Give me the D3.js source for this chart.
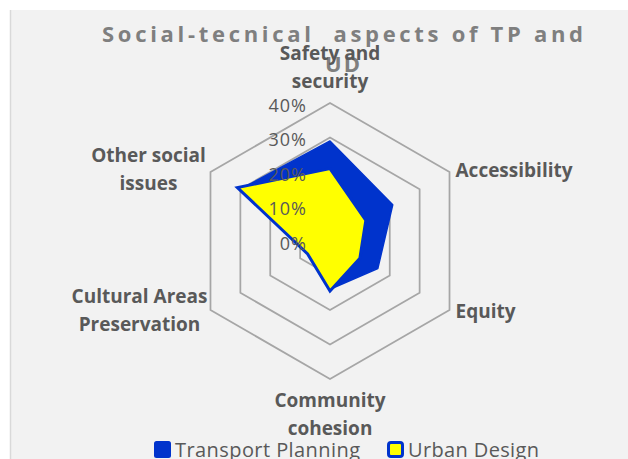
<!DOCTYPE html>
<html>
<head>
<meta charset="utf-8">
<script src="https://cdn.jsdelivr.net/npm/d3@7"></script>
<style>
  html, body { margin: 0; padding: 0; background: #fff; }
  svg { display: block; }
  text { font-family: "Open Sans", "Liberation Sans", sans-serif; }
</style>
</head>
<body>
<div id="chart"></div>
<script>
// chart data
const categories = [
  ["Safety and", "security"],
  ["Accessibility"],
  ["Equity"],
  ["Community", "cohesion"],
  ["Cultural Areas", "Preservation"],
  ["Other social", "issues"]
];
const transportPlanning = [0.29, 0.21, 0.16, 0.14, 0.07, 0.30];
const urbanDesign = [0.21, 0.12, 0.10, 0.145, 0.075, 0.31];
const tickValues = [0, 0.1, 0.2, 0.3, 0.4];
const seriesNames = ["Transport Planning", "Urban Design"];

const width = 628, height = 459;
const cx = 330, cy = 241;
const blue = "#0033cc", yellow = "#ffff00";

// where each category label sits, relative to its outer vertex
const labelLayout = [
  { dx: 0, dy: -43, anchor: "middle" },
  { dx: 6, dy: 5, anchor: "start" },
  { dx: 6, dy: 8, anchor: "start" },
  { dx: 0, dy: 28, anchor: "middle" },
  { dx: -71, dy: -7, anchor: "middle" },
  { dx: -62, dy: -10, anchor: "middle" }
];

const svg = d3.select("#chart").append("svg")
  .attr("width", width)
  .attr("height", height);

// chart area
svg.append("rect")
  .attr("x", 10).attr("y", 10)
  .attr("width", width - 10).attr("height", height - 10)
  .attr("fill", "#f2f2f2");
svg.append("line")
  .attr("x1", 10.5).attr("x2", 10.5)
  .attr("y1", 10).attr("y2", height)
  .attr("stroke", "#d9d9d9").attr("stroke-width", 1.5);

// title
const title = svg.append("text")
  .attr("fill", "#7f7f7f")
  .attr("font-weight", "bold")
  .attr("font-size", 22)
  .style("white-space", "pre");
title.append("tspan")
  .attr("x", 102).attr("y", 42)
  .attr("textLength", 481)
  .attr("lengthAdjust", "spacing")
  .text("Social-tecnical  aspects of TP and");
title.append("tspan")
  .attr("x", 325).attr("y", 72)
  .attr("textLength", 35)
  .attr("lengthAdjust", "spacing")
  .text("UD");

const r = d3.scaleLinear().domain([0, 0.4]).range([0, 138]);
const angle = d3.scalePoint().domain(d3.range(categories.length + 1)).range([0, 2 * Math.PI]);

const radar = d3.lineRadial()
  .angle((d, i) => angle(i))
  .radius(d => r(d))
  .curve(d3.curveLinearClosed);

const g = svg.append("g").attr("transform", `translate(${cx},${cy})`);

// rings
g.selectAll(".ring")
  .data(tickValues.filter(t => t > 0))
  .join("path")
  .attr("class", "ring")
  .attr("d", t => radar(categories.map(() => t)))
  .attr("fill", "none")
  .attr("stroke", "#a6a6a6")
  .attr("stroke-width", 1.75);

// series
g.append("path")
  .attr("d", radar(transportPlanning))
  .attr("fill", blue)
  .attr("stroke", blue)
  .attr("stroke-width", 1.5)
  .attr("stroke-linejoin", "round");

g.append("path")
  .attr("d", radar(urbanDesign))
  .attr("fill", yellow)
  .attr("stroke", blue)
  .attr("stroke-width", 3)
  .attr("stroke-linejoin", "miter");

// tick labels
g.selectAll(".tick")
  .data(tickValues)
  .join("text")
  .attr("class", "tick")
  .attr("x", -23)
  .attr("y", t => -r(t) + 8.5)
  .attr("text-anchor", "end")
  .attr("font-size", 18)
  .attr("letter-spacing", 1)
  .attr("fill", "#595959")
  .text(t => d3.format(".0%")(t));

// category labels
const point = (i, v) => {
  const a = angle(i);
  return [r(v) * Math.sin(a), -r(v) * Math.cos(a)];
};
categories.forEach((lines, i) => {
  const [x, y] = point(i, 0.4);
  const lay = labelLayout[i];
  const t = g.append("text")
    .attr("text-anchor", lay.anchor)
    .attr("font-size", 19)
    .attr("font-weight", "bold")
    .attr("fill", "#595959");
  lines.forEach((line, k) => {
    t.append("tspan")
      .attr("x", x + lay.dx)
      .attr("y", y + lay.dy + k * 28)
      .text(line);
  });
});

// legend
const legend = svg.append("g");
const legendX = [154, 387];
const legendW = [185, 131];
seriesNames.forEach((name, i) => {
  legend.append("rect")
    .attr("x", legendX[i] + (i ? 1.5 : 0))
    .attr("y", 441 + (i ? 1.5 : 0))
    .attr("width", i ? 14 : 17)
    .attr("height", i ? 14 : 17)
    .attr("rx", 2.5)
    .attr("fill", i ? yellow : blue)
    .attr("stroke", i ? blue : "none")
    .attr("stroke-width", i ? 3 : 0);
  legend.append("text")
    .attr("x", legendX[i] + 21)
    .attr("y", 457)
    .attr("font-size", 20)
    .attr("fill", "#595959")
    .attr("textLength", legendW[i])
    .attr("lengthAdjust", "spacing")
    .text(name);
});
</script>
</body>
</html>
